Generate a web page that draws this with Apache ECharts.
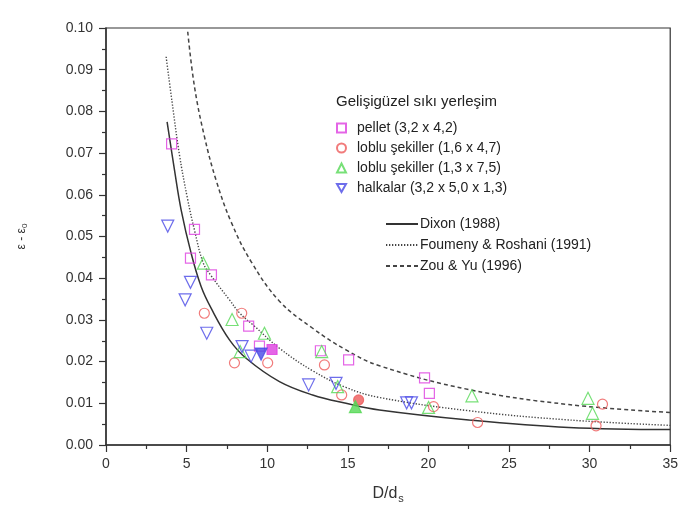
<!DOCTYPE html>
<html>
<head>
<meta charset="utf-8">
<script src="https://cdn.jsdelivr.net/npm/echarts@6/dist/echarts.min.js"></script>
<style>
html, body { margin: 0; padding: 0; background: #fff; }
#chart { width: 681px; height: 518px; }
</style>
</head>
<body>
<div id="chart"></div>
<script>
// measured points, [D/ds, eps - eps0]
var pellet = [[4.07,0.0722],[5.49,0.0517],[5.24,0.0448],[6.54,0.0408],[8.85,0.0285],[9.52,0.0237],[13.3,0.0226],[15.05,0.0204],[19.76,0.0161],[20.06,0.0124]]
var pelletFilled = [[10.3,0.0229]]
var loblu1 = [[6.1,0.0316],[8.42,0.0316],[7.97,0.0197],[10.03,0.0197],[13.55,0.0192],[14.62,0.0120],[20.32,0.0092],[23.05,0.0054],[30.8,0.0098],[30.4,0.0046]]
var loblu1Filled = [[15.67,0.0108]]
var loblu2 = [[6.04,0.0436],[7.82,0.0301],[9.83,0.0268],[8.32,0.0224],[13.38,0.0224],[14.37,0.0140],[20.01,0.0090],[22.7,0.0118],[29.9,0.0112],[30.18,0.0076]]
var loblu2Filled = [[15.47,0.0092]]
var halkalar = [[3.83,0.0525],[5.24,0.0390],[4.91,0.0348],[6.25,0.0268],[8.44,0.0236],[9.0,0.0213],[12.57,0.0144],[14.27,0.0148],[18.65,0.0101],[18.95,0.0101]]
var halkalarFilled = [[9.62,0.0218]]

// correlation curves
var dixon = [[3.79,0.0775],[4.25,0.0659],[4.66,0.0564],[5.28,0.0460],[5.9,0.0380],[6.52,0.0328],[7.66,0.0252],[8.69,0.0208],[10.76,0.0152],[12.82,0.0120],[14.89,0.0100],[16.96,0.0084],[22.5,0.0060],[28.7,0.0042],[35,0.0037]]
var foumeny = [[3.73,0.0931],[4.09,0.0825],[4.56,0.0695],[5.05,0.0592],[5.49,0.0515],[6.04,0.0436],[6.54,0.0405],[7.66,0.0348],[8.28,0.0317],[9.21,0.0285],[10.76,0.0232],[12.82,0.0178],[14.89,0.0138],[16.96,0.0114],[22.54,0.0082],[28.73,0.0060],[35,0.0047]]
var zouYu = [[5.07,0.0991],[5.49,0.0859],[6.11,0.0739],[6.83,0.0635],[7.76,0.0535],[9.0,0.0440],[10.76,0.0345],[12.82,0.0280],[14.89,0.0228],[16.96,0.0190],[22.5,0.0133],[28.7,0.0097],[35,0.0078]]

var names = ['pellet (3,2 x 4,2)', 'loblu şekiller (1,6 x 4,7)', 'loblu şekiller (1,3 x 7,5)', 'halkalar (3,2 x 5,0 x 1,3)']
var lineNames = ['Dixon (1988)', 'Foumeny & Roshani (1991)', 'Zou & Yu (1996)']

var cMag = '#dd3fe0', cRed = '#ee5a5a', cGreen = '#55d855', cBlue = '#4848e6'
var font = 'Arial, "Liberation Sans", sans-serif'
var downTri = 'path://M0,0 L10,0 L5,8.7 Z'

function pts(name, data, sym, size, col, filled) {
    return {
        name: name, type: 'scatter', data: data, symbol: sym, symbolSize: size,
        itemStyle: {color: filled ? col : 'rgba(255,255,255,0)', borderColor: col, borderWidth: 1.2},
        z: filled ? 4 : 3
    }
}
function curve(name, data, type, w, col) {
    return {
        name: name, type: 'line', data: data, smooth: 0.4, symbol: 'none',
        lineStyle: {color: col, width: w, type: type}, itemStyle: {color: col}, z: 2
    }
}

var option = {
    animation: false,
    textStyle: {fontFamily: font},
    title: {
        text: 'Gelişigüzel sıkı yerleşim', left: 331, top: 89,
        textStyle: {fontSize: 15, fontWeight: 'normal', color: '#222', fontFamily: font}
    },
    legend: [
        {
            data: names, orient: 'vertical', left: 331, top: 116,
            itemWidth: 9, itemHeight: 9, itemGap: 6,
            textStyle: {fontSize: 14, color: '#222', fontFamily: font, padding: [0, 0, 0, 6]}
        },
        {
            data: lineNames, orient: 'vertical', left: 380, top: 212,
            itemWidth: 32, itemHeight: 14, itemGap: 7,
            itemStyle: {opacity: 0},
            textStyle: {fontSize: 14, color: '#222', fontFamily: font, padding: [0, 0, 0, -3]}
        }
    ],
    grid: {left: 106, right: 9, top: 28, bottom: 73, show: true, borderColor: '#333', borderWidth: 1.2},
    xAxis: {
        type: 'value', min: 0, max: 35, interval: 5,
        name: '{a|D/d}{s|s}', nameLocation: 'middle', nameGap: 38,
        nameTextStyle: {rich: {a: {fontSize: 16, color: '#333', fontFamily: font}, s: {fontSize: 11, color: '#333', fontFamily: font, padding: [10, 0, 0, 1]}}},
        axisLine: {lineStyle: {color: '#333', width: 1.5}},
        axisTick: {length: 7, lineStyle: {color: '#333', width: 1.2}},
        minorTick: {show: true, splitNumber: 2, length: 4, lineStyle: {color: '#333', width: 1.2}},
        splitLine: {show: false},
        axisLabel: {fontSize: 14, color: '#333', margin: 12, fontFamily: font}
    },
    yAxis: {
        type: 'value', min: 0, max: 0.1, interval: 0.01,
        name: '{a|ε - ε}{s|0}', nameLocation: 'middle', nameGap: 77,
        nameTextStyle: {rich: {a: {fontSize: 12, color: '#333', fontFamily: font}, s: {fontSize: 8, color: '#333', fontFamily: font, padding: [7, 0, 0, 0]}}},
        axisLine: {lineStyle: {color: '#333', width: 1.5}},
        axisTick: {length: 7, lineStyle: {color: '#333', width: 1.2}},
        minorTick: {show: true, splitNumber: 2, length: 4, lineStyle: {color: '#333', width: 1.2}},
        splitLine: {show: false},
        axisLabel: {fontSize: 14, color: '#333', margin: 13, fontFamily: font, formatter: function (v) { return v.toFixed(2) }}
    },
    series: [
        curve(lineNames[0], dixon, 'solid', 1.5, '#333'),
        curve(lineNames[1], foumeny, [1.3, 1.7], 1.4, '#444'),
        curve(lineNames[2], zouYu, [4, 3], 1.5, '#444'),
        pts(names[0], pellet, 'rect', 10, cMag, false),
        pts(names[1], loblu1, 'circle', 10, cRed, false),
        pts(names[2], loblu2, 'triangle', 12, cGreen, false),
        pts(names[3], halkalar, downTri, 12, cBlue, false),
        pts('pf', pelletFilled, 'rect', 10, cMag, true),
        pts('rf', loblu1Filled, 'circle', 10, cRed, true),
        pts('gf', loblu2Filled, 'triangle', 12, cGreen, true),
        pts('bf', halkalarFilled, downTri, 12, cBlue, true)
    ]
}

var chart = echarts.init(document.getElementById('chart'))
chart.setOption(option)
</script>
</body>
</html>
